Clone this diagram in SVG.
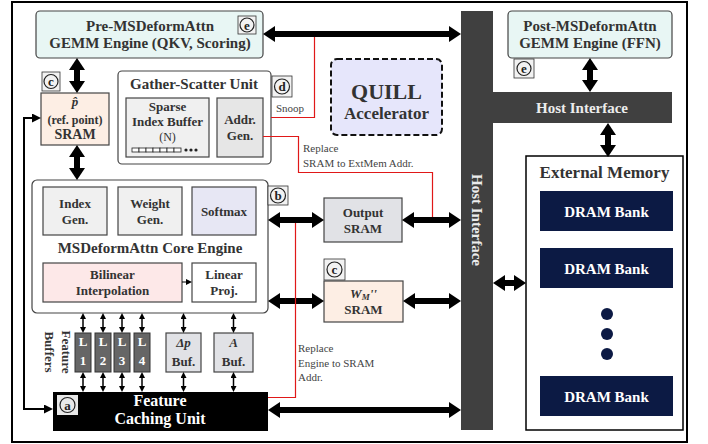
<svg xmlns="http://www.w3.org/2000/svg" width="708" height="444" viewBox="0 0 708 444">
<style>
.b{font-family:"Liberation Serif","DejaVu Serif",serif;font-weight:bold;fill:#333;text-anchor:middle}
.r{font-family:"Liberation Serif","DejaVu Serif",serif;fill:#444;font-size:11px}
.box{stroke:#444;stroke-width:1.2}
.thick{stroke:#000;stroke-width:6;fill:none;marker-start:url(#big);marker-end:url(#big)}
.thin{stroke:#000;stroke-width:1.5;fill:none;marker-start:url(#sm);marker-end:url(#sm)}
.red{stroke:#e01818;stroke-width:1.2;fill:none}
.bdg{fill:#f2f2f2;stroke:#333;stroke-width:0.8}
.bc{fill:none;stroke:#222;stroke-width:1.2}
.bt{font-family:"Liberation Serif","DejaVu Serif",serif;font-weight:bold;font-size:13px;fill:#222;text-anchor:middle}
</style>
<defs>
<marker id="big" viewBox="0 0 12 16" refX="1" refY="8" markerWidth="12" markerHeight="16" markerUnits="userSpaceOnUse" orient="auto-start-reverse"><path d="M0,0 L12,8 L0,16 z" fill="#000"/></marker>
<marker id="sm" viewBox="0 0 6 6" refX="1" refY="3" markerWidth="6" markerHeight="6" markerUnits="userSpaceOnUse" orient="auto-start-reverse"><path d="M0,0 L6,3 L0,6 z" fill="#000"/></marker>
<marker id="md" viewBox="0 0 9 9" refX="1" refY="4.5" markerWidth="9" markerHeight="9" markerUnits="userSpaceOnUse" orient="auto-start-reverse"><path d="M0,0 L9,4.5 L0,9 z" fill="#000"/></marker>
</defs>
<rect width="708" height="444" fill="#fff"/>
<rect id="frame" x="12" y="2" width="675" height="440" fill="none" stroke="#000" stroke-width="2"/>

<g id="host-interface">
<path d="M461,11 H493 V92 H672 V123 H493 V430 H461 Z" fill="#404040"/>
<text class="b" x="582" y="113" font-size="15" style="fill:#ececec">Host Interface</text>
<text class="b" font-size="15" style="fill:#ececec" transform="translate(472,220) rotate(90)">Host Interface</text>
</g>

<g id="pre-gemm">
<rect class="box" x="36" y="11" width="227" height="47" rx="4" fill="#e8f6f4"/>
<text class="b" x="150" y="31" font-size="15">Pre-MSDeformAttn</text>
<text class="b" x="150" y="48" font-size="15">GEMM Engine (QKV, Scoring)</text>
<rect class="bdg" x="238" y="16" width="18" height="18"/><circle class="bc" cx="247" cy="25" r="7"/><text class="bt" x="247" y="29.5">e</text>
</g>

<g id="post-gemm">
<rect class="box" x="508" y="11" width="164" height="47" rx="4" fill="#e8f6f4"/>
<text class="b" x="590" y="31" font-size="15">Post-MSDeformAttn</text>
<text class="b" x="590" y="48" font-size="15">GEMM Engine (FFN)</text>
<rect class="bdg" x="514" y="59" width="20" height="19"/><circle class="bc" cx="524" cy="68.5" r="7"/><text class="bt" x="524" y="73">e</text>
</g>

<g id="quill">
<rect x="331" y="59" width="111" height="76" rx="6" fill="#e6e6fb" stroke="#111" stroke-width="2" stroke-dasharray="6,3"/>
<text class="b" x="386.5" y="99" font-size="22">QUILL</text>
<text class="b" x="386.5" y="119" font-size="17">Accelerator</text>
</g>

<g id="p-sram">
<rect class="box" x="41" y="93" width="68" height="52" fill="#fdeee4"/>
<text class="b" x="75" y="106" font-size="13" font-style="italic">p̂</text>
<text class="b" x="75" y="124" font-size="12">(ref. point)</text>
<text class="b" x="75" y="139" font-size="14">SRAM</text>
<rect class="bdg" x="42" y="72" width="18" height="19"/><circle class="bc" cx="51" cy="81.5" r="7"/><text class="bt" x="51" y="86">c</text>
</g>

<g id="gather-scatter">
<rect class="box" x="118" y="71" width="153" height="93" rx="4" fill="#fff"/>
<text class="b" x="194" y="89" font-size="15">Gather-Scatter Unit</text>
<rect class="box" x="126" y="98" width="83" height="59" fill="#f0f0f0"/>
<text class="b" x="167.5" y="111" font-size="13">Sparse</text>
<text class="b" x="167.5" y="126" font-size="13">Index Buffer</text>
<text x="167.5" y="141" font-size="12" text-anchor="middle" font-family="Liberation Serif, serif" fill="#333">(N)</text>
<g fill="#fff" stroke="#222" stroke-width="0.8">
<rect x="132" y="148" width="7" height="4"/><rect x="139" y="148" width="7" height="4"/><rect x="146" y="148" width="7" height="4"/><rect x="153" y="148" width="7" height="4"/><rect x="160" y="148" width="7" height="4"/><rect x="167" y="148" width="7" height="4"/><rect x="174" y="148" width="7" height="4"/>
</g>
<circle cx="186" cy="150" r="1.6" fill="#222"/><circle cx="191" cy="150" r="1.6" fill="#222"/><circle cx="196" cy="150" r="1.6" fill="#222"/>
<rect class="box" x="217" y="98" width="46" height="59" fill="#e6e6e6"/>
<text class="b" x="240" y="124" font-size="13">Addr.</text>
<text class="b" x="240" y="140" font-size="13">Gen.</text>
<rect class="bdg" x="272" y="76" width="20" height="21"/><circle class="bc" cx="282" cy="86.5" r="7.5"/><text class="bt" x="282" y="91">d</text>
</g>

<g id="core-engine">
<rect class="box" x="32" y="180" width="236" height="133" rx="5" fill="#fff"/>
<rect class="box" x="43" y="187" width="64" height="48" fill="#f0f0f0"/>
<text class="b" x="75" y="208" font-size="13">Index</text><text class="b" x="75" y="224" font-size="13">Gen.</text>
<rect class="box" x="118" y="187" width="64" height="48" fill="#f0f0f0"/>
<text class="b" x="150" y="208" font-size="13">Weight</text><text class="b" x="150" y="224" font-size="13">Gen.</text>
<rect class="box" x="192" y="187" width="64" height="48" fill="#e7e7f4"/>
<text class="b" x="224" y="216" font-size="13">Softmax</text>
<text class="b" x="150" y="253" font-size="15">MSDeformAttn Core Engine</text>
<rect class="box" x="43" y="263" width="139" height="39" fill="#fde8e8"/>
<text class="b" x="112.5" y="279" font-size="13">Bilinear</text><text class="b" x="112.5" y="295" font-size="13">Interpolation</text>
<rect class="box" x="192" y="263" width="64" height="39" fill="#fff"/>
<text class="b" x="224" y="279" font-size="13">Linear</text><text class="b" x="224" y="295" font-size="13">Proj.</text>
<line x1="182" y1="282" x2="187" y2="282" stroke="#000" stroke-width="1" marker-end="url(#sm)"/>
<rect class="bdg" x="268" y="186" width="20" height="19"/><circle class="bc" cx="278" cy="195.5" r="7.5"/><text class="bt" x="278" y="200">b</text>
</g>

<g id="output-sram">
<rect class="box" x="324" y="198" width="78" height="44" fill="#e1e2e6"/>
<text class="b" x="363" y="217" font-size="13">Output</text>
<text class="b" x="363" y="233" font-size="13">SRAM</text>
</g>

<g id="wm-sram">
<rect class="box" x="324" y="281" width="79" height="41" fill="#fdeee4"/>
<text class="b" x="363.5" y="298" font-size="13" font-style="italic">W<tspan font-size="9" dy="2">M</tspan><tspan dy="-2">''</tspan></text>
<text class="b" x="363.5" y="314" font-size="13">SRAM</text>
<rect class="bdg" x="324" y="259" width="21" height="21"/><circle class="bc" cx="334.5" cy="269.5" r="7.5"/><text class="bt" x="334.5" y="274">c</text>
</g>

<g id="feature-buffers">
<text class="b" font-size="13" transform="translate(62,352) rotate(90)">Feature<tspan x="0" dy="17">Buffers</tspan></text>
<g fill="#666" stroke="#333" stroke-width="1">
<rect x="75" y="333" width="16" height="39"/><rect x="95" y="333" width="16" height="39"/><rect x="114" y="333" width="16" height="39"/><rect x="134" y="333" width="16" height="39"/>
</g>
<g class="b" font-size="13" style="fill:#fff">
<text x="83" y="346">L</text><text x="83" y="365">1</text>
<text x="103" y="346">L</text><text x="103" y="365">2</text>
<text x="122" y="346">L</text><text x="122" y="365">3</text>
<text x="142" y="346">L</text><text x="142" y="365">4</text>
</g>
</g>

<g id="dp-buf">
<rect class="box" x="166" y="333" width="35" height="39" fill="#e1e2e6"/>
<text class="b" x="183.5" y="347" font-size="13" font-style="italic">Δp</text>
<text class="b" x="183.5" y="366" font-size="13">Buf.</text>
</g>

<g id="a-buf">
<rect class="box" x="214" y="333" width="39" height="39" fill="#e1e2e6"/>
<text class="b" x="233.5" y="347" font-size="13" font-style="italic">A</text>
<text class="b" x="233.5" y="366" font-size="13">Buf.</text>
</g>

<g id="feature-caching">
<rect x="53" y="392" width="215" height="39" fill="#000"/>
<text class="b" x="160" y="406" font-size="16" style="fill:#fff">Feature</text>
<text class="b" x="160" y="424" font-size="16" style="fill:#fff">Caching Unit</text>
<rect x="57" y="395" width="21" height="20" fill="#e8e8e8"/><circle class="bc" cx="67.5" cy="405" r="7.5"/><text class="bt" x="67.5" y="409.5">a</text>
</g>

<g id="external-memory">
<rect x="526" y="156" width="157" height="274" fill="#fff" stroke="#000" stroke-width="1.5"/>
<text class="b" x="604.5" y="178" font-size="17">External Memory</text>
<rect x="540" y="191" width="133" height="40" fill="#0c1a44"/>
<text class="b" x="606.5" y="217" font-size="15" style="fill:#fff">DRAM Bank</text>
<rect x="540" y="248" width="133" height="40" fill="#0c1a44"/>
<text class="b" x="606.5" y="274" font-size="15" style="fill:#fff">DRAM Bank</text>
<circle cx="607" cy="314" r="6" fill="#0c1a44"/><circle cx="607" cy="334" r="6" fill="#0c1a44"/><circle cx="607" cy="354" r="6" fill="#0c1a44"/>
<rect x="540" y="376" width="133" height="40" fill="#0c1a44"/>
<text class="b" x="606.5" y="402" font-size="15" style="fill:#fff">DRAM Bank</text>
</g>

<g id="connectors">
<line class="thick" x1="274" y1="34" x2="450" y2="34"/>
<line class="thick" x1="77" y1="69" x2="77" y2="82"/>
<line class="thick" x1="77" y1="156" x2="77" y2="169"/>
<line class="thick" x1="279" y1="220" x2="313" y2="220"/>
<line class="thick" x1="413" y1="220" x2="450" y2="220"/>
<line class="thick" x1="279" y1="301" x2="313" y2="301"/>
<line class="thick" x1="414" y1="301" x2="450" y2="301"/>
<line class="thick" x1="279" y1="410" x2="450" y2="410"/>
<line class="thick" x1="590" y1="69" x2="590" y2="81"/>
<line class="thick" x1="608" y1="134" x2="608" y2="146"/>
<line class="thick" x1="504" y1="283" x2="515" y2="283"/>
<path d="M33,118 H24 V409 H45" stroke="#000" stroke-width="2" fill="none" marker-start="url(#md)" marker-end="url(#md)"/>
<line class="thin" x1="83" y1="318" x2="83" y2="328"/>
<line class="thin" x1="103" y1="318" x2="103" y2="328"/>
<line class="thin" x1="122" y1="318" x2="122" y2="328"/>
<line class="thin" x1="142" y1="318" x2="142" y2="328"/>
<line class="thin" x1="183.5" y1="318" x2="183.5" y2="328"/>
<line class="thin" x1="233.5" y1="318" x2="233.5" y2="328"/>
<line class="thin" x1="83" y1="377" x2="83" y2="387"/>
<line class="thin" x1="103" y1="377" x2="103" y2="387"/>
<line class="thin" x1="122" y1="377" x2="122" y2="387"/>
<line class="thin" x1="142" y1="377" x2="142" y2="387"/>
<line class="thin" x1="183.5" y1="377" x2="183.5" y2="387"/>
<line class="thin" x1="233.5" y1="377" x2="233.5" y2="387"/>
<path class="red" d="M271,117.5 H314.5 V37"/>
<path class="red" d="M263,136.5 H298.5 V172.5 H432.5 V217"/>
<path class="red" d="M268,397.5 H295.5 V223"/>
<text class="r" x="276" y="112">Snoop</text>
<text class="r" x="303" y="152">Replace</text>
<text class="r" x="303" y="167">SRAM to ExtMem Addr.</text>
<text class="r" x="298" y="352">Replace</text>
<text class="r" x="298" y="367">Engine to SRAM</text>
<text class="r" x="298" y="381">Addr.</text>
</g>
</svg>
